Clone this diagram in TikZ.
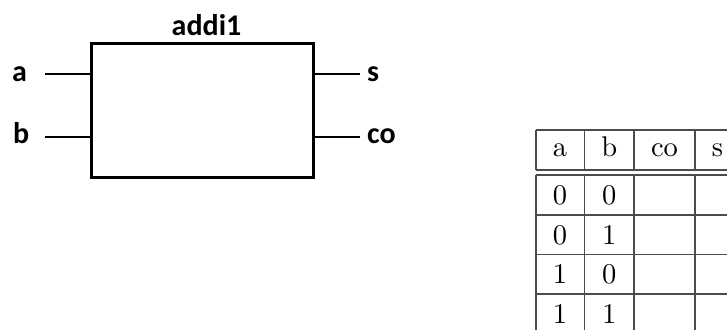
\documentclass[tikz,border=0pt]{standalone}
\usepackage{fontspec}
\newfontfamily\blockfont{Carlito}[BoldFont=* Bold]
\begin{document}
\begin{tikzpicture}[x=1pt,y=-1pt,
  blocklabel/.style={font=\blockfont\bfseries\fontsize{30}{30}\selectfont, inner sep=0pt, anchor=base west},
  blockline/.style={line width=3pt, line join=miter},
  stub/.style={line width=2pt},
  cell/.style={font=\fontsize{10}{12}\selectfont, scale=2.85, transform shape, inner sep=0pt, anchor=base},
  rule/.style={line width=1.4pt, draw=black!70}]
\useasboundingbox (0,0) rectangle (727,329);
\clip (0,0) rectangle (727,329);

% the adder block
\node[draw, blockline, minimum width=222pt, minimum height=133pt, inner sep=0pt] (blk) at (202,110.5) {};
\node[blocklabel, anchor=base] (name) at (206.5,36) {addi1};

% input and output stubs
\coordinate (ain) at (45,74.3);
\coordinate (bin) at (45,136.7);
\coordinate (sout) at (360,74.3);
\coordinate (coout) at (360,136.7);
\draw[stub] (ain) -- (ain -| blk.west);
\draw[stub] (bin) -- (bin -| blk.west);
\draw[stub] (sout -| blk.east) -- (sout);
\draw[stub] (coout -| blk.east) -- (coout);
\node[blocklabel] (la) at (12,81.5) {a};
\node[blocklabel] (lb) at (13,143.5) {b};
\node[blocklabel] (ls) at (367,81.5) {s};
\node[blocklabel] (lco) at (367,143.5) {co};

% truth table rules
\foreach \x in {536,584.3,634,695,740}{
  \draw[rule] (\x,130) -- (\x,170);
  \draw[rule] (\x,175) -- (\x,340);
}
\foreach \y in {130,170,175,215,254.5,294,334}{
  \draw[rule] (536,\y) -- (745,\y);
}

% header
\node[cell] (ha) at (560,156.5) {a};
\node[cell] (hb) at (609.2,156.5) {b};
\node[cell] (hco) at (664.5,156.5) {co};
\node[cell] (hs) at (717.5,156.5) {s};

% rows
\node[cell] (r1a) at (560,204.5) {0};
\node[cell] (r1b) at (609.2,204.5) {0};
\node[cell] (r2a) at (560,244) {0};
\node[cell] (r2b) at (609.2,244) {1};
\node[cell] (r3a) at (560,283.5) {1};
\node[cell] (r3b) at (609.2,283.5) {0};
\node[cell] (r4a) at (560,323) {1};
\node[cell] (r4b) at (609.2,323) {1};
\end{tikzpicture}
\end{document}
